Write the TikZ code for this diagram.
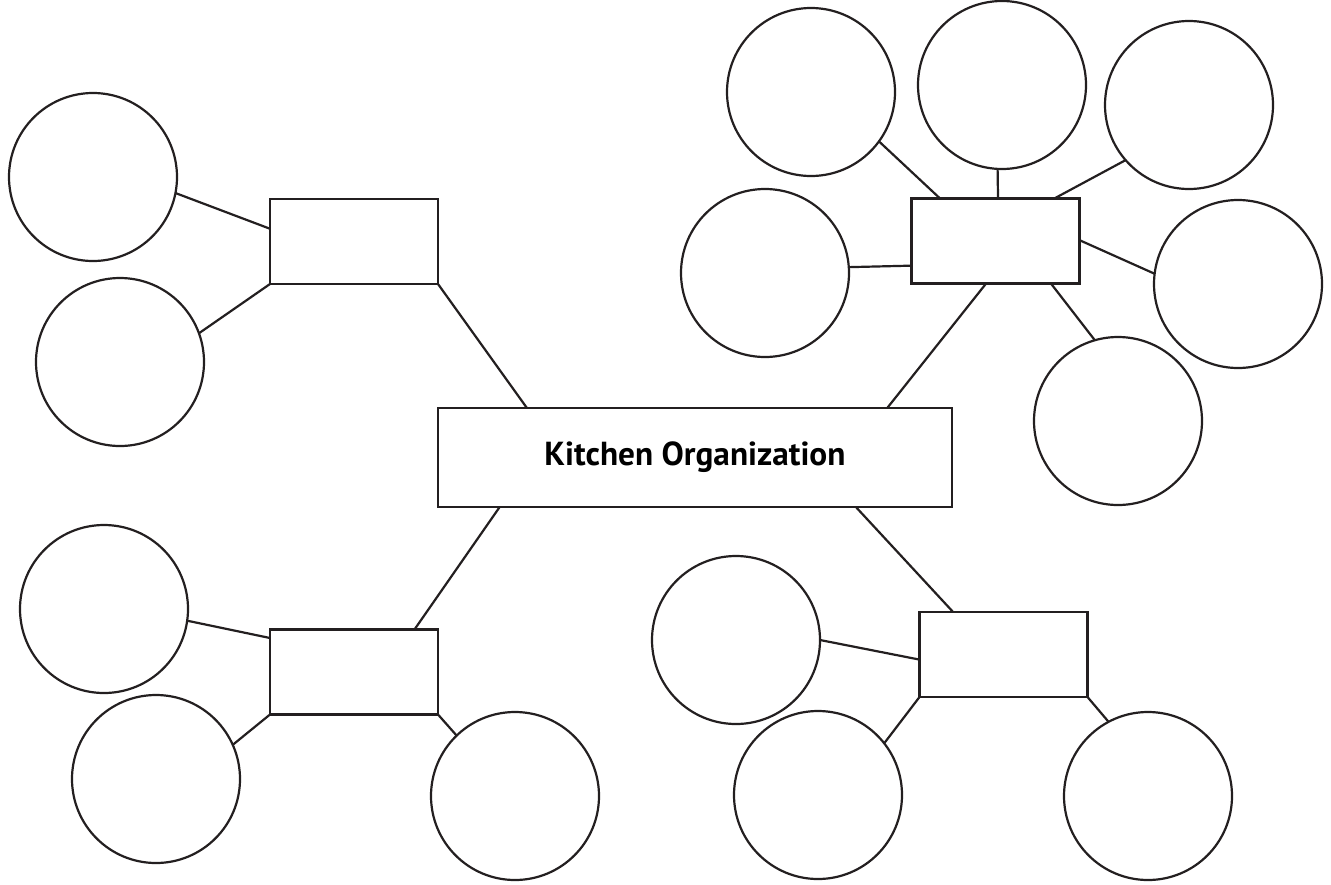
\documentclass[tikz,border=0pt]{standalone}
\usepackage{fontspec}
\setmainfont{PT Sans}
\usetikzlibrary{calc}
\definecolor{ink}{HTML}{231F20}
\tikzset{
  bubble/.style={circle,draw=ink,line width=2.2pt,minimum size=168pt,inner sep=0pt,outer sep=0pt},
  topic/.style={rectangle,draw=ink,line width=2.6pt,minimum width=168pt,minimum height=85pt,inner sep=0pt,outer sep=0pt},
  link/.style={draw=ink,line width=2.2pt}
}
\begin{document}
\begin{tikzpicture}[x=1pt,y=-1pt]
\useasboundingbox (0,0) rectangle (1331,884);
% central
\node[rectangle,draw=ink,line width=2.6pt,minimum width=514pt,minimum height=99pt,inner sep=0pt,outer sep=0pt] (center) at (695,457.5)
  {\resizebox{301pt}{!}{\bfseries Kitchen Organization}};
% top-left group
\node[topic] (tl) at (354,241.5) {};
\node[bubble] (tl1) at (93,177) {};
\node[bubble] (tl2) at (120,362) {};
% top-right group
\node[topic] (tr) at (995.5,241) {};
\node[bubble] (trA) at (811,92) {};
\node[bubble] (trB) at (1002,85) {};
\node[bubble] (trC) at (1189,105) {};
\node[bubble] (trD) at (765,273) {};
\node[bubble] (trE) at (1238,284) {};
\node[bubble] (trF) at (1118,421) {};
% bottom-left group
\node[topic] (bl) at (354,672) {};
\node[bubble] (blG) at (104,609) {};
\node[bubble] (blH) at (156,779) {};
\node[bubble] (blI) at (515,796) {};
% bottom-right group
\node[topic] (br) at (1003.5,654.5) {};
\node[bubble] (brJ) at (736,640) {};
\node[bubble] (brK) at (818,795) {};
\node[bubble] (brL) at (1148,796) {};
% connectors to center
\draw[link] ($(center.north west)!0.173!(center.north east)$) -- (tl.south east);
\draw[link] ($(center.north west)!0.874!(center.north east)$) -- ($(tr.south west)!0.444!(tr.south east)$);
\draw[link] ($(center.south west)!0.12!(center.south east)$) -- ($(bl.north west)!0.86!(bl.north east)$);
\draw[link] ($(center.south west)!0.813!(center.south east)$) -- ($(br.north west)!0.2!(br.north east)$);
% top-left
\draw[link] (tl1.-11) -- ($(tl.north west)!0.35!(tl.south west)$);
\draw[link] (tl2.20) -- (tl.south west);
% top-right
\draw[link] (trA.-36.5) -- ($(tr.north west)!0.17!(tr.north east)$);
\draw[link] (trB.-93) -- ($(tr.north west)!0.515!(tr.north east)$);
\draw[link] (trC.-139.6) -- ($(tr.north west)!0.85!(tr.north east)$);
\draw[link] (trD.4.7) -- ($(tr.north west)!0.79!(tr.south west)$);
\draw[link] (trE.173) -- ($(tr.north east)!0.49!(tr.south east)$);
\draw[link] (trF.106.8) -- ($(tr.south west)!0.83!(tr.south east)$);
% bottom-left
\draw[link] (blG.-8.7) -- ($(bl.north west)!0.1!(bl.south west)$);
\draw[link] (blH.24.6) -- (bl.south west);
\draw[link] (blI.134) -- (bl.south east);
% bottom-right
\draw[link] (brJ.-0.7) -- ($(br.north west)!0.56!(br.south west)$);
\draw[link] (brK.38.5) -- (br.south west);
\draw[link] (brL.118) -- (br.south east);
\end{tikzpicture}
\end{document}
